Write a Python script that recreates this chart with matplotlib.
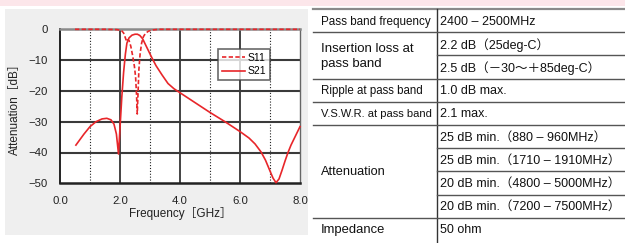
import matplotlib
matplotlib.use("Agg")
import matplotlib.pyplot as plt
from matplotlib.patches import Rectangle

# ---------------- data ----------------
s21_freq = [0.53, 0.8, 1.0, 1.2, 1.4, 1.56, 1.7, 1.8, 1.88, 1.95, 2.0, 2.06, 2.12,
            2.18, 2.23, 2.3, 2.4, 2.5, 2.58, 2.66, 2.75, 2.85, 2.95, 3.05, 3.2,
            3.4, 3.6, 3.8, 4.0, 4.5, 5.0, 5.5, 6.0, 6.3, 6.5, 6.7, 6.85, 7.0,
            7.1, 7.2, 7.3, 7.4, 7.5, 7.6, 7.7, 7.85, 8.0]
s21_db = [-37.6, -34.0, -31.6, -30.0, -29.1, -28.9, -29.4, -30.8, -34.0, -40.5,
          -32.0, -22.0, -14.0, -8.0, -4.5, -2.8, -1.9, -1.6, -1.6, -2.0, -3.0,
          -5.0, -7.0, -9.0, -11.8, -14.8, -17.6, -19.3, -20.6, -23.8, -27.0,
          -30.0, -33.2, -35.3, -37.2, -39.8, -42.5, -46.0, -48.3, -49.8, -48.6,
          -45.8, -42.8, -40.0, -37.6, -34.6, -31.6]

s11_freq = [0.5, 1.0, 1.5, 1.9, 2.05, 2.12, 2.18, 2.22, 2.26, 2.3, 2.36, 2.42,
            2.48, 2.52, 2.55, 2.575, 2.6, 2.63, 2.67, 2.72, 2.78, 2.85, 2.95,
            3.1, 3.3, 3.6, 4.0, 5.0, 6.0, 7.0, 8.0]
s11_db = [0.0, 0.0, 0.0, -0.1, -0.4, -1.2, -2.8, -4.0, -3.4, -3.6, -5.5, -8.5,
          -12.0, -15.5, -21.0, -27.5, -21.0, -13.0, -8.0, -4.5, -2.4, -1.3, -0.6,
          -0.2, 0.0, 0.0, 0.0, 0.0, 0.0, 0.0, 0.0]

x_ticks = [0, 2, 4, 6, 8]
x_tick_labels = ["0.0", "2.0", "4.0", "6.0", "8.0"]
y_ticks = [0, -10, -20, -30, -40, -50]
y_tick_labels = ["0", "\u221210", "\u221220", "\u221230", "\u221240", "\u221250"]

table_labels = ["Pass band frequency", "Insertion loss at\npass band",
                "Ripple at pass band", "V.S.W.R. at pass band", "Attenuation",
                "Impedance"]
table_values = [
    ["2400 \u2013 2500MHz"],
    ["2.2 dB\uff0825deg-C\uff09", "2.5 dB\uff08\uff0d30\uff5e\uff0b85deg-C\uff09"],
    ["1.0 dB max."],
    ["2.1 max."],
    ["25 dB min.\uff08880 \u2013 960MHz\uff09",
     "25 dB min.\uff081710 \u2013 1910MHz\uff09",
     "20 dB min.\uff084800 \u2013 5000MHz\uff09",
     "20 dB min.\uff087200 \u2013 7500MHz\uff09"],
    ["50 ohm"],
]

# ---------------- figure ----------------
W, H = 625, 243
fig = plt.figure(figsize=(W / 100, H / 100), dpi=100)
fam = ["Liberation Sans", "Noto Sans CJK JP", "DejaVu Sans"]
plt.rcParams["font.family"] = fam

bg = fig.add_axes([0, 0, 1, 1])
bg.set_xlim(0, W)
bg.set_ylim(H, 0)
bg.axis("off")
bg.set_zorder(0)
bg.add_patch(Rectangle((0, 0), W, 6, color="#fce6ea", lw=0))
bg.add_patch(Rectangle((5, 9), 303, 226, color="#efefef", lw=0))

# ---------------- chart ----------------
red = "#e8262a"
ax = fig.add_axes([60 / W, 1 - 183.3 / H, 240 / W, 154 / H])
ax.set_zorder(2)
ax.set_xlim(0, 8)
ax.set_ylim(-50, 0)
for v in [1, 3, 5, 7]:
    ax.axvline(v, color="#222222", lw=0.8, ls=(0, (1, 1.6)), zorder=1)
for v in [2, 4, 6]:
    ax.axvline(v, color="#111111", lw=1.1, zorder=1)
for v in [-10, -20, -30, -40]:
    ax.axhline(v, color="#3a3a3a", lw=1.5, zorder=1)

ax.plot(s11_freq, s11_db, color=red, lw=1.2, ls=(0, (2.6, 1.4)), label="S11",
        zorder=3, clip_on=False)
ax.plot(s21_freq, s21_db, color=red, lw=1.2, label="S21", zorder=4, clip_on=False)

ax.spines["left"].set_color("#111111")
ax.spines["left"].set_linewidth(1.3)
ax.spines["bottom"].set_color("#222222")
ax.spines["bottom"].set_linewidth(1.8)
ax.spines["top"].set_color("#8a8a8a")
ax.spines["top"].set_linewidth(1.8)
ax.spines["right"].set_color("#666666")
ax.spines["right"].set_linewidth(1.0)

ax.set_xticks(x_ticks)
ax.set_xticklabels(x_tick_labels)
ax.set_yticks(y_ticks)
ax.set_yticklabels(y_tick_labels)
ax.tick_params(axis="x", length=0, labelsize=8.2, colors="#222222", pad=9)
ax.tick_params(axis="y", length=0, labelsize=8.2, colors="#222222", pad=9)
ax.set_xlabel("Frequency\uff3bGHz\uff3d", fontsize=8.5, color="#222222", labelpad=1)
ax.set_ylabel("Attenuation\uff3bdB\uff3d", fontsize=8.5, color="#222222", labelpad=5)

leg = ax.legend(loc="upper left", bbox_to_anchor=(5.27 / 8, 1 - 6.4 / 50),
                fontsize=7.5, frameon=True, fancybox=False, handlelength=2.2,
                handletextpad=0.3, borderpad=0.35, labelspacing=0.35,
                borderaxespad=0)
leg.get_frame().set_edgecolor("#444444")
leg.get_frame().set_linewidth(1.2)

# ---------------- table ----------------
tx0, tx1, tcol = 313, W, 437
top = 9
pitch = 23.2
line_c = "#555555"
bg.plot([tx0, tx1], [top, top], color="#8a8a8a", lw=1.6, zorder=2)
bg.plot([tcol, tcol], [top, H], color="#333333", lw=1.0, zorder=2)

label_sizes = [8.4, 9.5, 8.3, 8.0, 9.2, 9.4]
value_fs = 9.0
r = 0
for label, vals, lfs in zip(table_labels, table_values, label_sizes):
    n = len(vals)
    y_start = top + r * pitch
    y_end = top + (r + n) * pitch
    bg.text(tx0 + 8, (y_start + y_end) / 2 + 1, label, fontsize=lfs,
            color="#111111", va="center", ha="left", linespacing=1.3, zorder=3)
    for i, v in enumerate(vals):
        yc = top + (r + i + 0.5) * pitch + 1
        bg.text(tcol + 3, yc, v, fontsize=value_fs, color="#111111", va="center",
                ha="left", zorder=3)
        if i < n - 1:
            yl = top + (r + i + 1) * pitch
            bg.plot([tcol, tx1], [yl, yl], color=line_c, lw=1.0, zorder=2)
    r += n
    if r < 10:
        yl = top + r * pitch
        bg.plot([tx0, tx1], [yl, yl], color=line_c, lw=1.0, zorder=2)

fig.savefig("out.png", dpi=100)
